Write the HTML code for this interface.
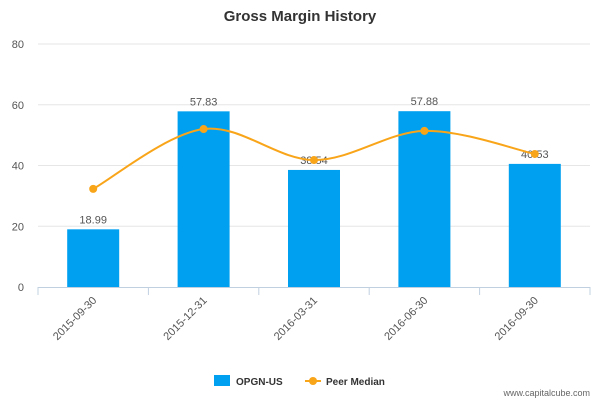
<!DOCTYPE html>
<html><head><meta charset="utf-8"><style>
body{margin:0;background:#fff;}
svg text{font-family:"Liberation Sans",sans-serif;}
</style></head><body>
<svg id="chart" width="600" height="400" viewBox="0 0 600 400" xmlns="http://www.w3.org/2000/svg">
<text x="300" y="21" text-anchor="middle" font-size="15" font-weight="bold" fill="#333">Gross Margin History</text>
<g id="grid"></g>
<g id="yticks"></g>
<g id="bars"></g>
<g id="line"></g>
<g id="xaxis"></g>
<g>
<rect x="214" y="375" width="16" height="11" fill="#00a0f0"/>
<text x="236" y="385" font-size="10" font-weight="bold" fill="#333">OPGN-US</text>
<line x1="305" y1="381" x2="321" y2="381" stroke="#f9a51a" stroke-width="2"/>
<circle cx="313" cy="381" r="4" fill="#f9a51a"/>
<text x="326" y="385" font-size="10" font-weight="bold" fill="#333">Peer Median</text>
</g>
<text x="590" y="396" text-anchor="end" font-size="9" fill="#666">www.capitalcube.com</text>
</svg>
<script>
const categories=["2015-09-30","2015-12-31","2016-03-31","2016-06-30","2016-09-30"];
const barValues=[18.99,57.83,38.54,57.88,40.53];
const peerValues=[32.3,52.0,41.8,51.4,43.8];
const yTicks=[0,20,40,60,80];
const NS="http://www.w3.org/2000/svg";
const x0=38,x1=590,yBase=287,yTop=44,yMax=80;
const y=v=>yBase-(v/yMax)*(yBase-yTop);
const bw=(x1-x0)/categories.length;
const xc=i=>x0+bw*(i+0.5);
function mk(tag,attrs,parent,txt){const e=document.createElementNS(NS,tag);for(const k in attrs)e.setAttribute(k,attrs[k]);if(txt!==undefined)e.textContent=txt;document.getElementById(parent).appendChild(e);return e;}
yTicks.forEach(t=>{
 if(t>0){const g=mk('line',{x1:x0,x2:x1,y1:y(t),y2:y(t),stroke:'#e6e6e6','stroke-width':1},'grid');
 
 }
 const l=mk('text',{x:24,y:y(t)+4,'text-anchor':'end','font-size':11,fill:'#555'},'yticks',String(t));
 
 
});
barValues.forEach((v,i)=>{
 const r=mk('rect',{x:xc(i)-26,y:y(v),width:52,height:yBase-y(v),fill:'#00a0f0'},'bars');
 
 
 const t=mk('text',{x:xc(i),y:y(v)-6,'text-anchor':'middle','font-size':11,fill:'#555'},'bars',v.toFixed(2));
 
 
});
const ax=mk('line',{x1:x0,x2:x1,y1:yBase+0.5,y2:yBase+0.5,stroke:'#c0d0e0'},'xaxis');


for(let i=0;i<=categories.length;i++){
 const tk=mk('line',{x1:x0+bw*i,x2:x0+bw*i,y1:yBase,y2:yBase+8,stroke:'#c0d0e0'},'xaxis');
 
 
}
categories.forEach((c,i)=>{
 const t=mk('text',{x:xc(i)+4,y:yBase+14,'text-anchor':'end','font-size':11,fill:'#555',transform:`rotate(-45 ${xc(i)+4} ${yBase+14})`},'xaxis',c);
 
 
});
const pts=peerValues.map((v,i)=>[xc(i),y(v)]);
let d=`M${pts[0][0]},${pts[0][1]}`;
for(let i=0;i<pts.length-1;i++){
 const p0=pts[Math.max(0,i-1)],p1=pts[i],p2=pts[i+1],p3=pts[Math.min(pts.length-1,i+2)];
 const k=1/6;
 d+=` C${p1[0]+(p2[0]-p0[0])*k},${p1[1]+(p2[1]-p0[1])*k} ${p2[0]-(p3[0]-p1[0])*k},${p2[1]-(p3[1]-p1[1])*k} ${p2[0]},${p2[1]}`;
}
const path=mk('path',{d:d,fill:'none',stroke:'#f9a51a','stroke-width':2},'line');


pts.forEach((p,i)=>{
 const c=mk('circle',{cx:p[0],cy:p[1],r:4,fill:'#f9a51a'},'line');
 
 
});
</script>
</body></html>
